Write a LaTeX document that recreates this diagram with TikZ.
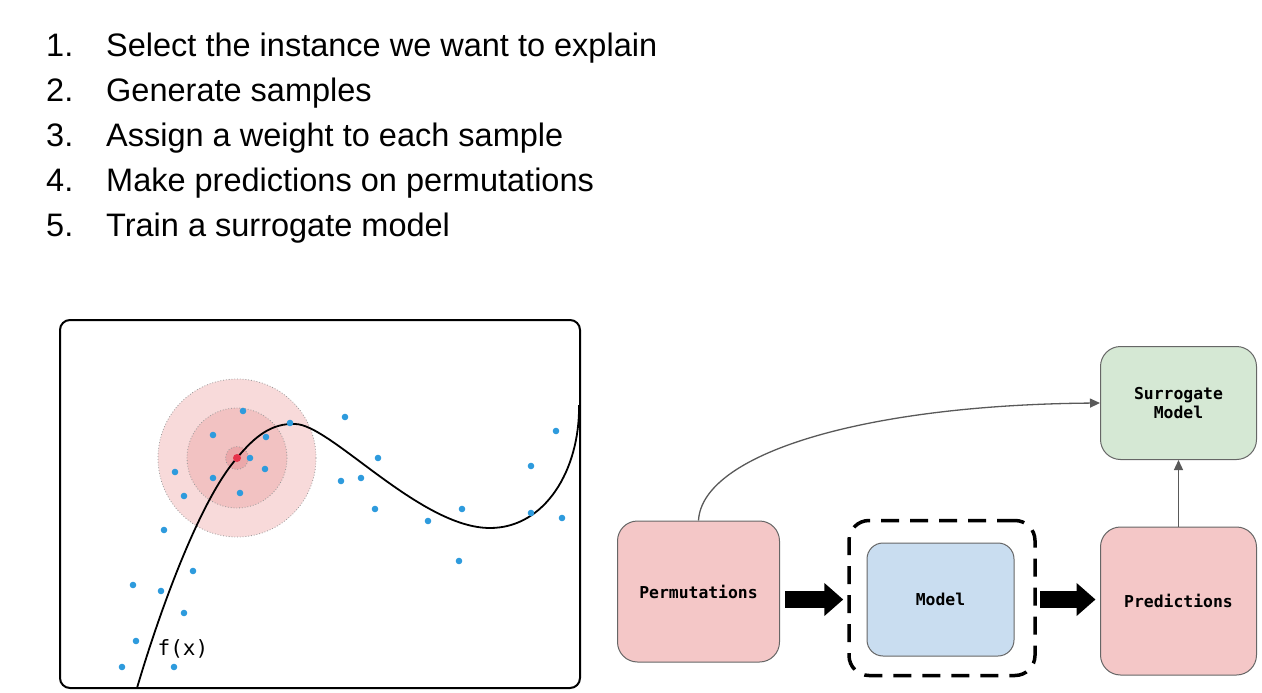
\documentclass[tikz,border=0pt]{standalone}
\usepackage{fontspec}
\setmainfont{Liberation Sans}
\newfontfamily\boxmono{DejaVu Sans Mono}
\usetikzlibrary{arrows.meta}
\definecolor{pinkbox}{HTML}{F4C7C7}
\definecolor{greenbox}{HTML}{D5E8D4}
\definecolor{bluebox}{HTML}{C9DDF0}
\definecolor{boxline}{HTML}{666666}
\definecolor{arrowgray}{HTML}{595959}
\definecolor{ringA}{HTML}{F8DADA}
\definecolor{ringB}{HTML}{F2C2C2}
\definecolor{ringC}{HTML}{EBA8AA}
\definecolor{redpt}{HTML}{E6334B}
\definecolor{bluept}{HTML}{2E9BDD}
\begin{document}
\begin{tikzpicture}[x=1pt,y=-1pt,
  listnum/.style={anchor=base west,inner sep=0pt,font=\fontsize{32.5}{38}\selectfont},
  listtxt/.style={anchor=base west,inner sep=0pt,font=\fontsize{32.5}{38}\selectfont},
  flowbox/.style={draw=boxline,line width=1pt,rounded corners=20pt,inner sep=0pt,
     font=\boxmono\bfseries\fontsize{16.4}{18.7}\selectfont,align=center},
  grayarrow/.style={draw=arrowgray,line width=1.3pt,-{Triangle[length=10pt,width=9pt]}},
  fatarrow/.style={draw=black,line width=16.5pt,line cap=butt,-{Triangle[length=19pt,width=32pt]}},
  ring/.style={draw=gray!80,line width=0.8pt,dotted},
  sample/.style={fill=bluept},
]
\useasboundingbox (0,0) rectangle (1262,693);

% list
\node[listnum] (n1) at (46,57) {1.};
\node[listtxt] (t1) at (106,57) {Select the instance we want to explain};
\node[listnum] (n2) at (46,101.9) {2.};
\node[listtxt] (t2) at (106,101.9) {Generate samples};
\node[listnum] (n3) at (46,146.8) {3.};
\node[listtxt] (t3) at (106,146.8) {Assign a weight to each sample};
\node[listnum] (n4) at (46,191.8) {4.};
\node[listtxt] (t4) at (106,191.8) {Make predictions on permutations};
\node[listnum] (n5) at (46,236.7) {5.};
\node[listtxt] (t5) at (106,236.7) {Train a surrogate model};

% left panel
\draw[line width=2pt,rounded corners=10pt] (60,320) rectangle (580,688);
\fill[ringA] (237,458) circle (79);
\draw[ring] (237,458) circle (79);
\fill[ringB] (237,458) circle (50);
\draw[ring] (237,458) circle (50);
\fill[ringC] (237,458) circle (11.5);
\draw[ring] (237,458) circle (11.5);

\draw[line width=1.8pt] (137,688) .. controls (160,610) and (200,500) .. (237,458)
  .. controls (255,436) and (272,423) .. (295,424)
  .. controls (330,424) and (420,528) .. (490,528)
  .. controls (545,528) and (580,470) .. (579,405);

\foreach \p in {(243,411),(290,423),(345,417),(213,435),(266,437),(556,431),
  (250,458),(378,458),(531,466),(175,472),(265,469),(213,478),(341,481),(361,478),
  (184,496),(240,493),(375,509),(462,509),(531,513),(562,518),(428,521),(164,530),
  (459,561),(193,571),(133,585),(161,591),(184,613),(136,641),(122,667),(174,667)}
  \fill[sample] \p circle (3.3);
\fill[redpt] (237,458) circle (4);

\node[inner sep=0pt,font=\boxmono\fontsize{21}{24}\selectfont] (fx) at (183,649) {f(x)};

% flow diagram
\node[flowbox,fill=pinkbox,minimum width=162pt,minimum height=141pt] (perm) at (698.5,591.5) {Permutations};
\node[draw=black,line width=3.5pt,dash pattern=on 18pt off 11pt,rounded corners=20pt,
      minimum width=186pt,minimum height=155pt,inner sep=0pt] (dash) at (942,598) {};
\node[flowbox,fill=bluebox,rounded corners=16pt,minimum width=147pt,minimum height=113pt] (model) at (940.5,599.5) {Model};
\node[flowbox,fill=pinkbox,minimum width=156pt,minimum height=148pt] (pred) at (1178.5,601) {Predictions};
\node[flowbox,fill=greenbox,minimum width=156pt,minimum height=113pt] (surr) at (1178.5,403) {Surrogate\\Model};

\draw[fatarrow,shorten <=5pt,shorten >=4pt] (perm.east |- model) -- (dash.west |- model);
\draw[fatarrow,shorten <=3.5pt,shorten >=4.5pt] (dash.east |- model) -- (pred.west |- model);
\draw[grayarrow] (perm.north) .. controls (702,455) and (860,405) .. (surr.west);
\draw[grayarrow] (pred.north) -- (surr.south);
\end{tikzpicture}
\end{document}
